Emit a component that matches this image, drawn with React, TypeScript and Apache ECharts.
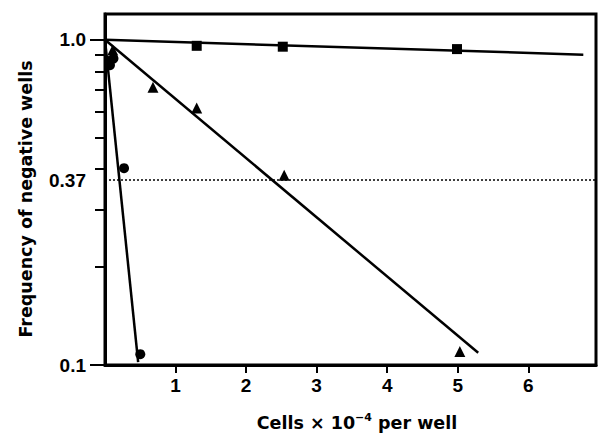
import React, { useEffect, useRef } from "react";
import * as echarts from "echarts";

// Observed points (x: cells × 10^-4 per well, y: frequency of negative wells)
const squarePoints = [
  [0.06, 0.86],
  [1.3, 0.958],
  [2.52, 0.952],
  [4.99, 0.936],
];
const trianglePoints = [
  [0.11, 0.93],
  [0.68, 0.714],
  [1.3, 0.617],
  [2.54, 0.383],
  [5.03, 0.11],
];
const circlePoints = [
  [0.07, 0.835],
  [0.12, 0.875],
  [0.27, 0.403],
  [0.5, 0.108],
];

// Fitted regression lines (end points)
const squareFit = [
  [0, 1.0],
  [6.78, 0.9],
];
const triangleFit = [
  [0, 1.0],
  [5.29, 0.109],
];
const circleFit = [
  [0, 1.0],
  [0.47, 0.102],
];

const referenceLevel = 0.37;
const xTickValues = [1, 2, 3, 4, 5, 6];
const yMajorTicks = [0.1, 1.0];
const yMinorTicks = [0.2, 0.3, 0.4, 0.5, 0.6, 0.7, 0.8, 0.9];
const yLabelValues = [0.1, 0.37, 1.0];

const yTitle = "Frequency of negative wells";

export default function App() {
  const ref = useRef<HTMLDivElement>(null);

  useEffect(() => {
    if (!ref.current) return;
    const chart = echarts.init(ref.current, undefined, { renderer: "svg" });
    const black = "#000";
    const tickFont = {
      fontFamily: "Liberation Sans",
      fontWeight: "bold" as const,
      fontSize: 19,
      color: black,
    };
    const lineSeries = (data: number[][]) => ({
      type: "line",
      data,
      symbol: "none",
      lineStyle: { color: black, width: 2.5 },
      silent: true,
      z: 2,
    });
    const scatterSeries = (data: number[][], symbol: string, size: number) => ({
      type: "scatter",
      data,
      symbol,
      symbolSize: size,
      itemStyle: { color: black, opacity: 1 },
      z: 3,
    });

    chart.setOption({
      animation: false,
      grid: {
        left: 105,
        right: 2,
        top: 14,
        bottom: 70,
        show: true,
        borderColor: black,
        borderWidth: 3,
        backgroundColor: "transparent",
      },
      xAxis: {
        type: "value",
        min: 0,
        max: 6.96,
        axisLine: { show: true, lineStyle: { color: black, width: 3 } },
        axisTick: {
          show: true,
          customValues: xTickValues,
          length: 8,
          lineStyle: { color: black, width: 2 },
        },
        axisLabel: {
          customValues: xTickValues,
          margin: 11,
          ...tickFont,
        },
        splitLine: { show: false },
      },
      yAxis: [
        {
          type: "log",
          logBase: 10,
          min: 0.1,
          max: 1.2,
          position: "left",
          axisLine: { show: true, lineStyle: { color: black, width: 3 } },
          axisTick: {
            show: true,
            customValues: yMajorTicks,
            length: 15,
            lineStyle: { color: black, width: 2 },
          },
          axisLabel: {
            customValues: yLabelValues,
            margin: 19,
            formatter: (v: number) => (Math.abs(v - 1) < 1e-9 ? "1.0" : String(v)),
            ...tickFont,
          },
          splitLine: { show: false },
          minorTick: { show: false },
        },
        {
          type: "log",
          logBase: 10,
          min: 0.1,
          max: 1.2,
          position: "left",
          axisLine: { show: false },
          axisTick: {
            show: true,
            customValues: yMinorTicks,
            length: 10,
            lineStyle: { color: black, width: 2 },
          },
          axisLabel: { show: false },
          splitLine: { show: false },
        },
      ],
      graphic: [
        {
          type: "text",
          x: 26,
          y: 199,
          rotation: Math.PI / 2,
          style: {
            text: yTitle,
            fontFamily: "DejaVu Sans",
            fontWeight: "bold",
            fontSize: 17.5,
            fill: black,
            align: "center",
            verticalAlign: "middle",
          },
        },
        {
          type: "text",
          x: 357,
          y: 423,
          style: {
            text: "Cells × 10{sup|−4} per well",
            fontFamily: "DejaVu Sans",
            fontWeight: "bold",
            fontSize: 17.5,
            lineHeight: 22,
            fill: black,
            align: "center",
            verticalAlign: "middle",
            rich: {
              sup: {
                fontFamily: "DejaVu Sans",
                fontWeight: "bold",
                fontSize: 11,
                lineHeight: 11,
                verticalAlign: "top",
                fill: black,
              },
            },
          },
        },
      ],
      series: [
        {
          ...lineSeries(squareFit),
          markLine: {
            silent: true,
            symbol: ["none", "none"],
            label: { show: false },
            lineStyle: { color: black, width: 1.5, type: [2, 2] },
            data: [{ yAxis: referenceLevel }],
          },
        },
        lineSeries(triangleFit),
        lineSeries(circleFit),
        scatterSeries(squarePoints, "rect", 10),
        scatterSeries(trianglePoints, "triangle", 11),
        scatterSeries(circlePoints, "circle", 10),
      ],
    });
    return () => chart.dispose();
  }, []);

  return (
    <div
      ref={ref}
      style={{ position: "fixed", left: 0, top: 0, width: 598, height: 435, background: "#fff" }}
    />
  );
}
